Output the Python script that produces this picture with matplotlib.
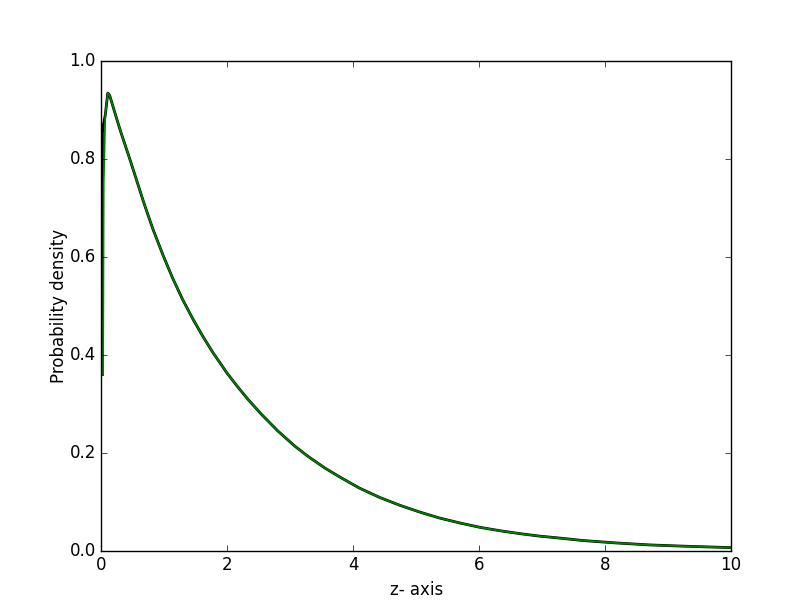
import matplotlib
matplotlib.use("Agg")
import matplotlib.pyplot as plt

plt.style.use("classic")

# Smooth density curve (green)
pdf_x = [0.025, 0.035, 0.06, 0.10, 0.13, 0.2, 0.3, 0.45, 0.57, 0.68, 0.82, 0.98,
         1.13, 1.29, 1.45, 1.61, 1.77, 2.0, 2.17, 2.33, 2.54, 2.8, 3.07, 3.28,
         3.55, 3.81, 4.1, 4.42, 4.74, 5.06, 5.37, 5.69, 6.01, 6.33, 6.65, 6.96,
         7.28, 7.65, 8.18, 8.71, 9.24, 10.0]
pdf_y = [0.36, 0.75, 0.89, 0.935, 0.93, 0.90, 0.858, 0.800, 0.752, 0.708, 0.656,
         0.603, 0.557, 0.513, 0.474, 0.438, 0.405, 0.362, 0.334, 0.309, 0.279,
         0.245, 0.214, 0.193, 0.169, 0.149, 0.128, 0.109, 0.093, 0.079, 0.067,
         0.057, 0.048, 0.041, 0.035, 0.030, 0.026, 0.021, 0.016, 0.012, 0.0095,
         0.0065]

# Empirical (black) curve: near-zero bins, then it follows the density
emp_x = [0.015, 0.015, 0.03, 0.06, 0.10, 0.13, 0.2, 0.3, 0.45, 0.57, 0.68, 0.82,
         0.98, 1.13, 1.29, 1.45, 1.61, 1.77, 2.0, 2.17, 2.33, 2.54, 2.8, 3.07,
         3.28, 3.55, 3.81, 4.1, 4.42, 4.74, 5.06, 5.37, 5.69, 6.01, 6.33, 6.65,
         6.96, 7.28, 7.65, 8.18, 8.71, 9.24, 10.0]
emp_y = [0.36, 0.855, 0.87, 0.89, 0.935, 0.93, 0.90, 0.858, 0.800, 0.752, 0.708,
         0.656, 0.603, 0.557, 0.513, 0.474, 0.438, 0.405, 0.362, 0.334, 0.309,
         0.279, 0.245, 0.214, 0.193, 0.169, 0.149, 0.128, 0.109, 0.093, 0.079,
         0.067, 0.057, 0.048, 0.041, 0.035, 0.030, 0.026, 0.021, 0.016, 0.012,
         0.0095, 0.0065]

x_ticks = [0, 2, 4, 6, 8, 10]
y_ticks = [0.0, 0.2, 0.4, 0.6, 0.8, 1.0]

fig = plt.figure(figsize=(8.12, 6.12), dpi=100, facecolor="white")
ax = fig.add_axes([0.125, 0.1, 0.775, 0.8])
ax.plot(emp_x, emp_y, color="black", lw=2.0)
ax.plot(pdf_x, pdf_y, color=(0, 0.5, 0), lw=1.3)
ax.set_xlim(0, 10)
ax.set_ylim(0, 1.0)
ax.set_xticks(x_ticks)
ax.set_yticks(y_ticks)
ax.set_xticklabels([str(t) for t in x_ticks])
ax.set_yticklabels(["%.1f" % t for t in y_ticks])
ax.tick_params(labelsize=12)
ax.set_xlabel("z- axis", fontsize=12)
ax.set_ylabel("Probability density", fontsize=12, labelpad=1)
fig.savefig("out.png", dpi=100, facecolor="white")
